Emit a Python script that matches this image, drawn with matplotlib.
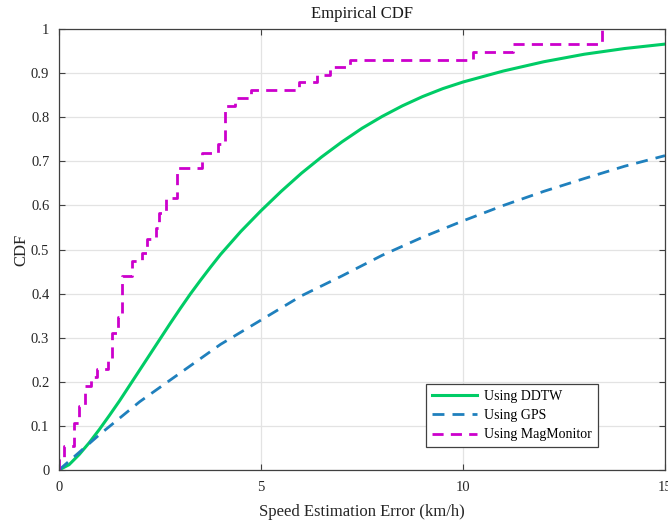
import numpy as np
import matplotlib.pyplot as plt

plt.rcParams['font.family'] = ['Liberation Serif', 'DejaVu Serif']

# speed estimation error (km/h) and CDF values
err_ddtw = [0, 0.25, 0.5, 0.75, 1, 1.25, 1.5, 1.75, 2, 2.25, 2.5, 2.75, 3, 3.25, 3.5,
            3.75, 4, 4.5, 5, 5.5, 6, 6.5, 7, 7.5, 8, 8.5, 9, 9.5, 10, 11, 12, 13, 14, 15]
cdf_ddtw = [0, 0.012, 0.035, 0.062, 0.092, 0.124, 0.157, 0.192, 0.227, 0.262, 0.297,
            0.332, 0.366, 0.399, 0.43, 0.46, 0.489, 0.541, 0.588, 0.632, 0.673, 0.71,
            0.744, 0.775, 0.802, 0.826, 0.847, 0.865, 0.88, 0.905, 0.926, 0.943,
            0.956, 0.966]

err_gps = [0, 1, 2, 3, 4, 5, 6, 7, 8, 9, 10, 11, 12, 13, 14, 15]
cdf_gps = [0, 0.08, 0.155, 0.22, 0.285, 0.34, 0.395, 0.44, 0.487, 0.528, 0.565,
           0.60, 0.632, 0.661, 0.689, 0.713]

# empirical CDF steps: error where the step happens, level after it
err_mag = [0, 0, 0.12, 0.37, 0.49, 0.65, 0.8, 0.95, 1.22, 1.3, 1.45, 1.55, 1.8, 2.05,
           2.18, 2.4, 2.48, 2.64, 2.91, 3.55, 3.93, 4.1, 4.35, 4.75, 5.95, 6.38, 6.72,
           7.2, 10.25, 11.25, 13.45]
cdf_mag = [0, 0.027, 0.055, 0.107, 0.145, 0.19, 0.21, 0.228, 0.255, 0.31, 0.347, 0.44,
           0.474, 0.492, 0.525, 0.55, 0.583, 0.616, 0.686, 0.72, 0.74, 0.825, 0.843,
           0.862, 0.879, 0.897, 0.915, 0.931, 0.948, 0.966, 1.0]

fig = plt.figure(figsize=(6.68, 5.2), dpi=100)
ax = fig.add_axes([0.0883, 0.0962, 0.9072, 0.8478])

ax.plot(err_ddtw, cdf_ddtw, color='#00CC66', lw=2.2, label='Using DDTW')
ax.plot(err_gps, cdf_gps, color='#1F80BD', lw=2.0, dashes=(4.3, 2.9), label='Using GPS')
ax.step(err_mag, cdf_mag, where='post', color='#CC00CC', lw=2.0, dashes=(4.0, 2.6),
        label='Using MagMonitor')

ax.set_xlim(0, 15)
ax.set_ylim(0, 1)
ax.set_xticks([0, 5, 10, 15])
ax.set_yticks(np.arange(0, 1.01, 0.1))
ax.set_yticklabels(['0', '0.1', '0.2', '0.3', '0.4', '0.5', '0.6', '0.7', '0.8', '0.9', '1'])
ax.grid(True, color='#E3E3E3', lw=0.9)
ax.set_axisbelow(True)
ax.tick_params(direction='in', length=4, top=True, right=True, labelsize=10.5,
               color='#404040', labelcolor='#262626')
ax.tick_params(axis='x', pad=8)
ax.tick_params(axis='y', pad=7)
for s in ax.spines.values():
    s.set_color('#404040')
    s.set_linewidth(0.9)

ax.set_title('Empirical CDF', fontsize=12, pad=8, color='#1a1a1a')
ax.set_xlabel('Speed Estimation Error (km/h)', fontsize=12, labelpad=7, color='#262626')
ax.set_ylabel('CDF', fontsize=12, labelpad=1, color='#262626')

leg = ax.legend(loc='lower right', bbox_to_anchor=(0.889, 0.052), borderaxespad=0,
                fontsize=10, fancybox=False, framealpha=1, edgecolor='#404040',
                handlelength=3.3, handletextpad=0.5, labelspacing=0.45,
                borderpad=0.4)
leg.get_frame().set_linewidth(0.9)

fig.savefig('out.png', dpi=100)
